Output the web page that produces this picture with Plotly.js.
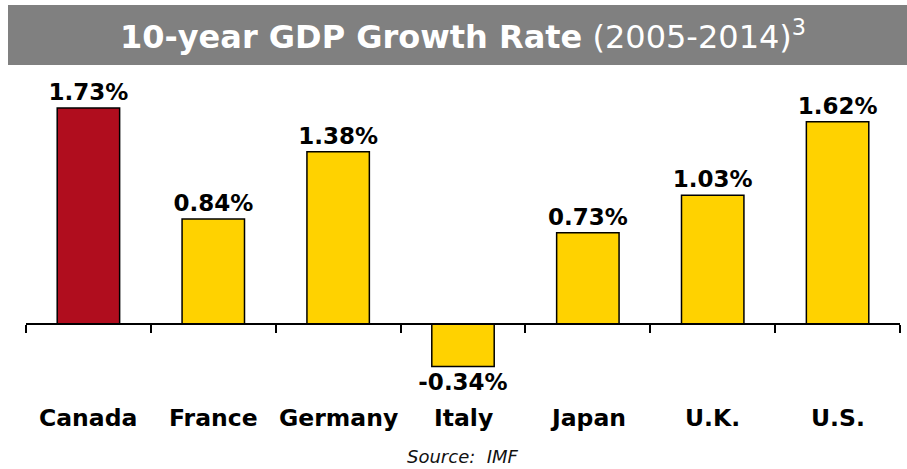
<!DOCTYPE html>
<html>
<head>
<meta charset="utf-8">
<script src="https://cdn.plot.ly/plotly-3.0.1.min.js"></script>
<style>html,body{margin:0;padding:0;background:#fff;}#chart{width:907px;height:469px;}</style>
</head>
<body>
<div id="chart"></div>
<script>
const categories = ["Canada", "France", "Germany", "Italy", "Japan", "U.K.", "U.S."];
const growthRates = [1.73, 0.84, 1.38, -0.34, 0.73, 1.03, 1.62];
const valueLabels = ["1.73%", "0.84%", "1.38%", "-0.34%", "0.73%", "1.03%", "1.62%"];
const highlightCategory = "Canada";
const sourceText = "Source:  IMF";

const RED = "#B00D1E", GOLD = "#FFD200";
const yMin = -0.6085, yMax = 1.9536;
const zeroPos = (0 - yMin) / (yMax - yMin);

const trace = {
  type: "bar",
  x: categories,
  y: growthRates,
  text: valueLabels,
  textposition: "outside",
  constraintext: "none",
  cliponaxis: false,
  textfont: {family: "DejaVu Sans", size: 23, color: "#000", weight: "bold"},
  marker: {
    color: categories.map(c => c === highlightCategory ? RED : GOLD),
    line: {color: "#000", width: 1.5}
  },
  hoverinfo: "none"
};

const annotations = categories.map(c => ({
  x: c, xref: "x", y: -0.056, yref: "paper",
  text: "<b>" + c + "</b>", showarrow: false,
  yanchor: "middle", xanchor: "center",
  font: {family: "DejaVu Sans", size: 23.5, color: "#000"}
}));
annotations.push({
  x: 0.5, xref: "paper", y: -0.178, yref: "paper",
  text: "<i>" + sourceText + "</i>", showarrow: false,
  yanchor: "middle", xanchor: "center",
  font: {family: "DejaVu Sans", size: 18, color: "#111"}
});

const layout = {
  width: 907, height: 469,
  margin: {l: 26, r: 7, t: 80, b: 69},
  paper_bgcolor: "#fff", plot_bgcolor: "#fff",
  showlegend: false,
  bargap: 0.5,
  title: {
    text: "<b>10-year GDP Growth Rate</b> (2005-2014)<sup>3</sup>",
    font: {family: "DejaVu Sans", size: 32, color: "#fff"},
    x: 0.5, xanchor: "center", xref: "paper",
    y: 1 - 37 / 469, yanchor: "middle", yref: "container"
  },
  xaxis: {
    type: "category",
    range: [-0.5, categories.length - 0.5],
    anchor: "free", position: zeroPos,
    showline: true, linecolor: "#000", linewidth: 2.5,
    ticks: "outside", tickson: "boundaries", ticklen: 8, tickwidth: 2, tickcolor: "#000",
    showticklabels: false, showgrid: false, zeroline: false, fixedrange: true
  },
  yaxis: {
    range: [yMin, yMax], visible: false, showgrid: false, zeroline: false, fixedrange: true
  },
  shapes: [{
    type: "rect", xref: "paper", yref: "paper", layer: "below",
    x0: (8 - 26) / 874, x1: (907 - 26) / 874,
    y0: (400 - 65) / 320, y1: (400 - 5) / 320,
    fillcolor: "#808080", line: {width: 0}
  }],
  annotations: annotations
};

Plotly.newPlot("chart", [trace], layout, {displayModeBar: false, staticPlot: true});
</script>
</body>
</html>
